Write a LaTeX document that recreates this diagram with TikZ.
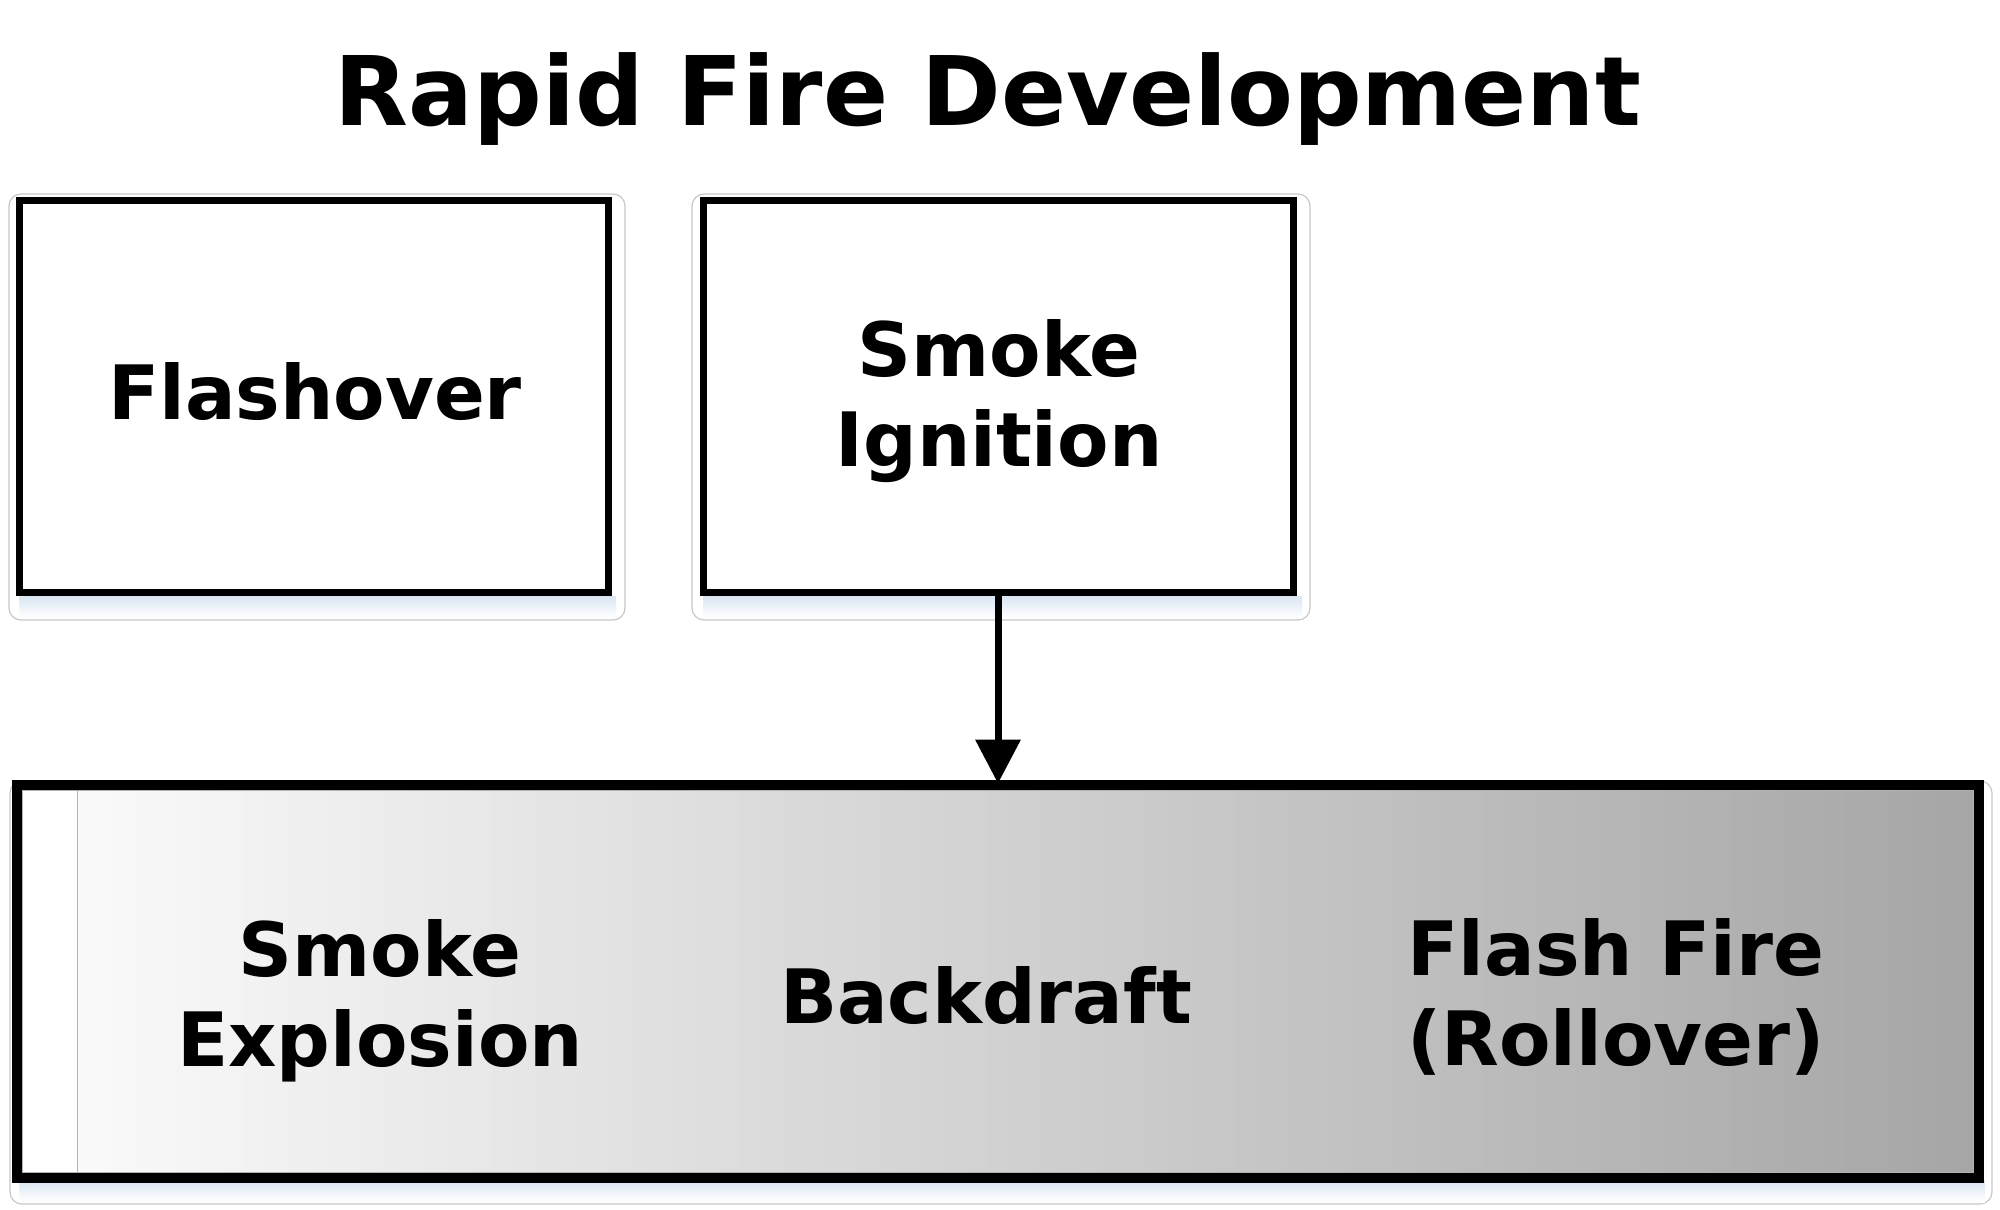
\documentclass[tikz,border=0pt]{standalone}
\usepackage{fontspec}
\setmainfont{DejaVu Sans}
\usetikzlibrary{arrows.meta}
\definecolor{glowblue}{RGB}{218,230,244}
\begin{document}
\begin{tikzpicture}[x=1pt,y=-1pt,
  box/.style={draw=black,line width=7pt,inner sep=0pt,fill=white},
  lbl/.style={font=\bfseries\fontsize{75}{90}\selectfont,align=center,inner sep=0pt},
  halo/.style={draw=black!22,line width=1.2pt,rounded corners=12pt,fill=white},
  glow/.style={top color=glowblue,bottom color=white,draw=none},
]
\useasboundingbox[fill=white] (0,0) rectangle (2000,1210);
% halos
\path[halo] (9,194) rectangle (625,620);
\path[halo] (692,194) rectangle (1310,620);
\path[halo] (10,781) rectangle (1992,1204);
\path[glow] (19,596) rectangle (616,618);
\path[glow] (703,596) rectangle (1302,618);
\path[glow] (19,1180) rectangle (1985,1202);
% title
\node[font=\bfseries\fontsize{96}{110}\selectfont,anchor=base,inner sep=0pt] (title) at (988,125) {Rapid Fire Development};
% top boxes
\node[box,minimum width=589pt,minimum height=392pt] (flash) at (313.5,396) {};
\node[box,minimum width=590pt,minimum height=392pt] (ign) at (998,396) {};
\node[lbl,anchor=base] (flashtxt) at (315,419) {Flashover};
\node[lbl] (igntxt) at (999,401) {Smoke\\Ignition};
% bottom box
\node[box,minimum width=1958pt,minimum height=389pt] (bot) at (998,981.5) {};
\shade[left color=white!98!black,right color=black!35,draw=black!30,line width=1pt] (77,790.5) rectangle (1973.5,1172.5);
\draw[black!30,line width=1pt] (22.5,790.5) rectangle (1973.5,1172.5);
\draw[black,line width=7pt] (bot.north west) rectangle (bot.south east);
\node[lbl] (expl) at (380,1001) {Smoke\\Explosion};
\node[lbl,anchor=base] (back) at (986,1023) {Backdraft};
\node[lbl] (roll) at (1616,997) {Flash Fire\\(Rollover)};
% arrow
\draw[line width=7pt,-{Triangle[length=44pt,width=44pt]}] (ign.south) -- (bot.north);
\end{tikzpicture}
\end{document}
